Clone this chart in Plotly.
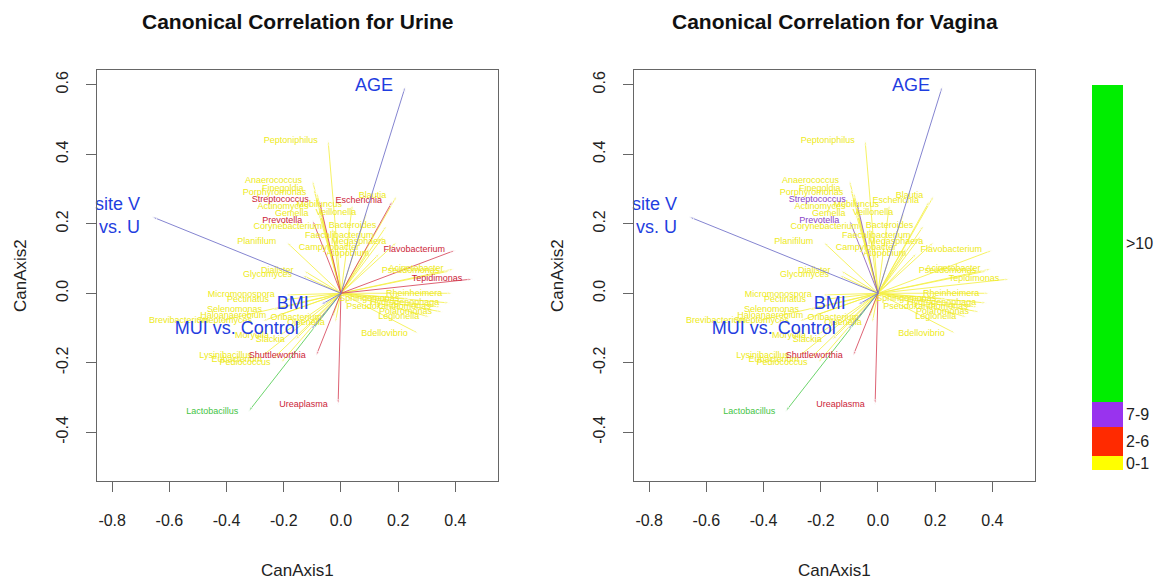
import plotly.graph_objects as go

# ---------------- data ----------------
species = [
    "Peptoniphilus", "Anaerococcus", "Finegoldia", "Porphyromonas", "Streptococcus",
    "Actinomyces", "Mobiluncus", "Escherichia", "Blautia", "Gemella", "Veillonella",
    "Prevotella", "Corynebacterium", "Bacteroides", "Faecalibacterium", "Campylobacter",
    "Megasphaera", "Atopobium", "Planifilum", "Dialister", "Glycomyces",
    "Flavobacterium", "Pseudomonas", "Acinetobacter", "Tepidimonas", "Rheinheimera",
    "Sphingomonas", "Hydrogenophaga", "Pseudoxanthomonas", "Polaromonas", "Legionella",
    "Bdellovibrio", "Micromonospora", "Pectinatus", "Selenomonas", "Haloanaerobium",
    "Brevibacterium", "Streptomyces", "Oribacterium", "Olsenella", "Moryella",
    "Slackia", "Lysinibacillus", "Eubacterium", "Pediococcus", "Shuttleworthia",
    "Ureaplasma", "Lactobacillus",
]
can1 = [
    -0.045, -0.100, -0.095, -0.085, -0.076,
    -0.077, 0.040, 0.180, 0.195, -0.077, 0.090,
    -0.099, -0.030, 0.160, 0.150, 0.100,
    0.195, 0.135, -0.190, -0.130, -0.135,
    0.400, 0.380, 0.395, 0.460, 0.390,
    0.240, 0.380, 0.350, 0.355, 0.310,
    0.270, -0.195, -0.215, -0.240, -0.225,
    -0.425, -0.275, -0.030, -0.020, -0.215,
    -0.160, -0.275, -0.240, -0.210, -0.087,
    -0.010, -0.323,
]
can2 = [
    0.440, 0.325, 0.300, 0.290, 0.268,
    0.250, 0.256, 0.265, 0.280, 0.230, 0.233,
    0.210, 0.190, 0.195, 0.165, 0.130,
    0.147, 0.115, 0.147, 0.065, 0.052,
    0.124, 0.064, 0.070, 0.041, 0.000,
    -0.016, -0.028, -0.040, -0.054, -0.068,
    -0.115, -0.005, -0.020, -0.048, -0.065,
    -0.080, -0.080, -0.070, -0.085, -0.122,
    -0.134, -0.180, -0.190, -0.200, -0.180,
    -0.320, -0.340,
]
urine_class = ["0-1"] * len(species)
for s in ["Streptococcus", "Prevotella", "Escherichia", "Flavobacterium",
          "Tepidimonas", "Shuttleworthia", "Ureaplasma"]:
    urine_class[species.index(s)] = "2-6"
urine_class[species.index("Lactobacillus")] = ">10"

vagina_class = ["0-1"] * len(species)
for s in ["Streptococcus", "Prevotella"]:
    vagina_class[species.index(s)] = "7-9"
for s in ["Shuttleworthia", "Ureaplasma"]:
    vagina_class[species.index(s)] = "2-6"
vagina_class[species.index("Lactobacillus")] = ">10"

cov_names = ["AGE", "site V<br>vs. U", "BMI", "MUI vs. Control"]
cov_x = [0.225, -0.660, -0.070, -0.105]
cov_y = [0.595, 0.220, -0.033, -0.105]

class_labels = ["0-1", "2-6", "7-9", ">10"]
class_bar = [14, 30, 25, 318]

x_ticks = [-0.8, -0.6, -0.4, -0.2, 0.0, 0.2, 0.4]
y_ticks = [-0.4, -0.2, 0.0, 0.2, 0.4, 0.6]

titles = ["Canonical Correlation for Urine", "Canonical Correlation for Vagina"]

# ---------------- styles ----------------
FONT = "Liberation Sans, Arial, sans-serif"
text_col = {"0-1": "#eeea20", "2-6": "#cc2438", "7-9": "#8a44c8", ">10": "#44c444"}
line_col = {"0-1": "rgba(244,240,70,0.85)", "2-6": "rgba(215,70,90,0.85)",
            "7-9": "rgba(140,95,185,0.85)", ">10": "rgba(100,210,100,0.95)"}
bar_col = {"0-1": "#ffff00", "2-6": "#ff2a00", "7-9": "#9933ee", ">10": "#00ee00"}
cov_line = "rgba(125,125,205,0.95)"
cov_text = "#1f3ee0"

fig = go.Figure()

panels = [("x", "y", urine_class), ("x2", "y2", vagina_class)]
for xa, ya, classes in panels:
    for cl in class_labels:
        idx = [i for i, c in enumerate(classes) if c == cl]
        if not idx:
            continue
        lx, ly, ms = [], [], []
        for i in idx:
            lx += [0, can1[i], None]
            ly += [0, can2[i], None]
            ms += [0, 5, 0]
        fig.add_trace(go.Scatter(
            x=lx, y=ly, xaxis=xa, yaxis=ya, mode="lines+markers",
            line=dict(color=line_col[cl], width=1),
            marker=dict(symbol="arrow", angleref="previous", size=ms, color=line_col[cl]),
            hoverinfo="skip", showlegend=False, cliponaxis=False))
    for cl in class_labels:
        idx = [i for i, c in enumerate(classes) if c == cl]
        if not idx:
            continue
        fig.add_trace(go.Scatter(
            x=[can1[i] for i in idx], y=[can2[i] for i in idx],
            text=[species[i] for i in idx], xaxis=xa, yaxis=ya,
            mode="markers+text", textposition="middle left",
            marker=dict(size=15, opacity=0),
            textfont=dict(family=FONT, size=9, color=text_col[cl]),
            hoverinfo="skip", showlegend=False, cliponaxis=False))
    # covariate arrows
    lx, ly, ms = [], [], []
    for cx, cy in zip(cov_x, cov_y):
        lx += [0, cx, None]
        ly += [0, cy, None]
        ms += [0, 5, 0]
    fig.add_trace(go.Scatter(
        x=lx, y=ly, xaxis=xa, yaxis=ya, mode="lines+markers",
        line=dict(color=cov_line, width=1),
        marker=dict(symbol="arrow", angleref="previous", size=ms, color=cov_line),
        hoverinfo="skip", showlegend=False, cliponaxis=False))
    fig.add_trace(go.Scatter(
        x=cov_x, y=cov_y, text=cov_names, xaxis=xa, yaxis=ya,
        mode="markers+text", textposition="middle left",
        marker=dict(size=18, opacity=0),
        textfont=dict(family=FONT, size=18, color=cov_text),
        hoverinfo="skip", showlegend=False, cliponaxis=False))

# color key as stacked bars
for cl, h in zip(class_labels, class_bar):
    fig.add_trace(go.Bar(
        x=[0], y=[h], xaxis="x3", yaxis="y3", width=1,
        marker=dict(color=bar_col[cl], line=dict(width=0)),
        hoverinfo="skip", showlegend=False))

centers = []
acc = 0
for h in class_bar:
    centers.append(acc + h / 2)
    acc += h

XR = [-0.853, 0.549]
YR = [-0.541, 0.643]
ydom = [1 - 483 / 585, 1 - 70 / 585]
axcommon = dict(showgrid=False, zeroline=False, showline=True, mirror=True,
                linecolor="#666666", linewidth=1, ticks="outside", ticklen=10,
                tickcolor="#666666", tickfont=dict(family=FONT, size=16, color="#222222"))

fig.update_layout(
    width=1168, height=585, margin=dict(l=0, r=0, t=0, b=0),
    paper_bgcolor="white", plot_bgcolor="white", barmode="stack",
    xaxis=dict(domain=[97 / 1168, 498 / 1168], range=XR, tickvals=x_ticks,
               ticktext=[f"{v:.1f}" for v in x_ticks], anchor="y",
               ticklabelstandoff=14, **axcommon),
    yaxis=dict(domain=ydom, range=YR, tickvals=y_ticks,
               ticktext=[f"{v:.1f}" for v in y_ticks], anchor="x", tickangle=-90,
               ticklabelstandoff=12, **axcommon),
    xaxis2=dict(domain=[634 / 1168, 1035 / 1168], range=XR, tickvals=x_ticks,
                ticktext=[f"{v:.1f}" for v in x_ticks], anchor="y2",
                ticklabelstandoff=14, **axcommon),
    yaxis2=dict(domain=ydom, range=YR, tickvals=y_ticks,
                ticktext=[f"{v:.1f}" for v in y_ticks], anchor="x2", tickangle=-90,
                ticklabelstandoff=12, **axcommon),
    xaxis3=dict(domain=[1092 / 1168, 1123 / 1168], range=[-0.5, 0.5], visible=False,
                anchor="y3"),
    yaxis3=dict(domain=[1 - 472 / 585, 1 - 85 / 585], range=[0, sum(class_bar)],
                anchor="x3", side="right", showgrid=False, zeroline=False,
                showline=False, ticks="", tickvals=centers, ticktext=class_labels,
                ticklabelstandoff=2,
                tickfont=dict(family=FONT, size=16, color="#222222")),
)

annots = []
for xc, t in zip([297.5, 834.5], titles):
    annots.append(dict(x=xc / 1168, y=1 - 22 / 585, xref="paper", yref="paper",
                       xanchor="center", yanchor="middle",
                       text=f"<b>{t}</b>", showarrow=False,
                       font=dict(family=FONT, size=21, color="#111111")))
    annots.append(dict(x=xc / 1168, y=1 - 572 / 585, xref="paper", yref="paper",
                       xanchor="center", yanchor="middle",
                       text="CanAxis1", showarrow=False,
                       font=dict(family=FONT, size=17, color="#222222")))
for xc in [20, 557]:
    annots.append(dict(x=xc / 1168, y=1 - 277 / 585, xref="paper", yref="paper",
                       xanchor="center", yanchor="middle",
                       text="CanAxis2", showarrow=False, textangle=-90,
                       font=dict(family=FONT, size=17, color="#222222")))
fig.update_layout(annotations=annots)

fig.write_html("out.html")
